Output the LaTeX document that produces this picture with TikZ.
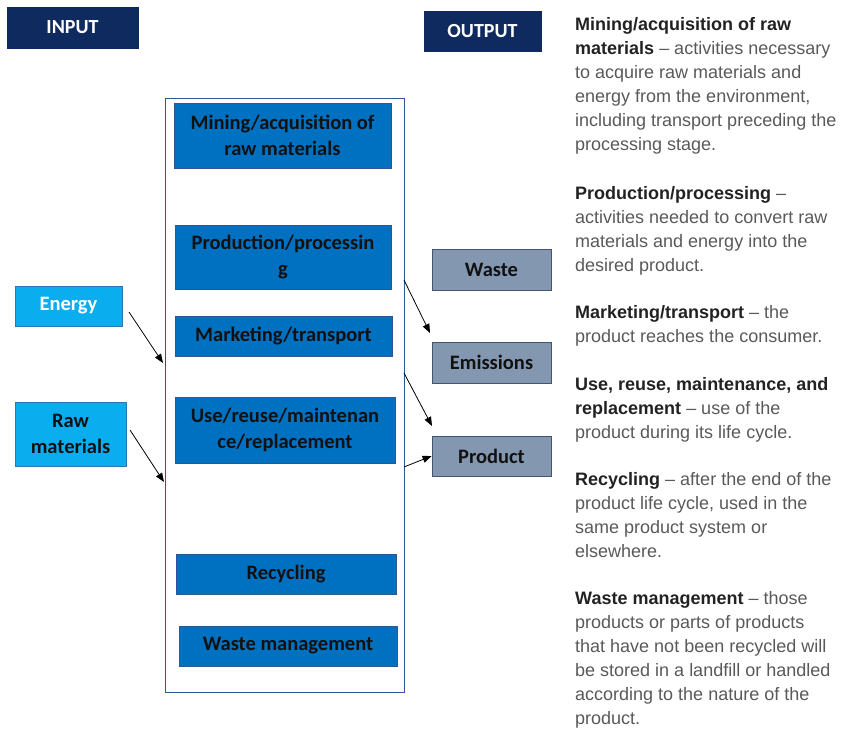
\documentclass[tikz,border=0pt]{standalone}
\usepackage{fontspec}
\setmainfont{Liberation Sans}
\newfontfamily\boxfont{Carlito}
\usetikzlibrary{arrows.meta}
\definecolor{navy}{HTML}{0E2A5E}
\definecolor{procfill}{HTML}{0070C0}
\definecolor{procdraw}{HTML}{2F5597}
\definecolor{infill}{HTML}{0AAEEF}
\definecolor{indraw}{HTML}{2E75B6}
\definecolor{outfill}{HTML}{8497B0}
\definecolor{outdraw}{HTML}{44546A}
\definecolor{txtgrey}{HTML}{595959}
\definecolor{txtdark}{HTML}{222222}
\definecolor{boxtxt}{HTML}{111111}
\tikzset{
  base box/.style={inner sep=0pt, align=center, line width=0.8pt,
    font=\boxfont\bfseries\fontsize{20.5}{26}\selectfont},
  headbox/.style={base box, fill=navy, draw=navy, text=white, font=\boxfont\bfseries\fontsize{20}{22}\selectfont},
  procbox/.style={base box, fill=procfill, draw=procdraw, text=boxtxt},
  inbox/.style={base box, fill=infill, draw=indraw},
  outbox/.style={base box, fill=outfill, draw=outdraw, text=boxtxt},
  container/.style={draw=procdraw, line width=0.8pt, fill=white, inner sep=0pt},
  conn/.style={line width=0.8pt, -{Triangle[length=9pt,width=7pt]}},
  para/.style={inner sep=0pt, anchor=base west, text=txtgrey,
    font=\fontsize{18}{24}\selectfont},
}
\newcommand{\hd}[1]{{\color{txtdark}\bfseries #1}}
\begin{document}
\begin{tikzpicture}[x=1pt,y=-1pt]
\useasboundingbox (0,0) rectangle (847,730);
% headers
\node[headbox, minimum width=131pt, minimum height=41pt] (input) at (72.5,27.5) {INPUT};
\node[headbox, minimum width=117pt, minimum height=40pt] (output) at (482.5,31) {OUTPUT};
% container
\node[container, minimum width=239pt, minimum height=594pt] (cont) at (284.5,395) {};
% process boxes
\node[procbox, minimum width=217pt, minimum height=65pt] (mining) at (282.5,135.5) {Mining/acquisition of\\raw materials};
\node[procbox, minimum width=216pt, minimum height=64pt] (prod) at (283,257) {Production/processin\\g};
\node[procbox, minimum width=217pt, minimum height=40pt] (mkt) at (283.5,336) {Marketing/transport};
\node[procbox, minimum width=220pt, minimum height=66pt] (use) at (285,430) {Use/reuse/maintenan\\ce/replacement};
\node[procbox, minimum width=220pt, minimum height=40pt] (recyc) at (286,574) {Recycling};
\node[procbox, minimum width=218pt, minimum height=40pt] (wastem) at (288,646) {Waste management};
% inputs
\node[inbox, text=white, minimum width=107pt, minimum height=40pt] (energy) at (68.5,306) {Energy};
\node[inbox, text=boxtxt, minimum width=111pt, minimum height=64pt] (raw) at (70.5,434) {Raw\\materials};
% outputs
\node[outbox, minimum width=119pt, minimum height=41pt] (waste) at (491.5,269.5) {Waste};
\node[outbox, minimum width=119pt, minimum height=41pt] (emis) at (491.5,362.5) {Emissions};
\node[outbox, minimum width=119pt, minimum height=40pt] (prodout) at (491.5,456) {Product};
% connector ends
\coordinate (eS) at (129,312);
\coordinate (eE) at (163,363);
\coordinate (rS) at (130,430);
\coordinate (rE) at (164,482);
\coordinate (o1S) at (404,280);
\coordinate (o1E) at (430,333);
\coordinate (o2S) at (404,373);
\coordinate (o2E) at (432,426);
\coordinate (o3S) at (404,467);
\draw[conn] (eS) -- (eE);
\draw[conn] (rS) -- (rE);
\draw[conn] (o1S) -- (o1E);
\draw[conn] (o2S) -- (o2E);
\draw[conn] (o3S) -- (prodout.west);
% descriptions
\node[para] (d1) at (575,17) {\parbox[t]{272pt}{\raggedright
\hd{Mining/acquisition of raw}\\
\hd{materials} -- activities necessary\\
to acquire raw materials and\\
energy from the environment,\\
including transport preceding the\\
processing stage.}};
\node[para] (d2) at (575,186) {\parbox[t]{272pt}{\raggedright
\hd{Production/processing} --\\
activities needed to convert raw\\
materials and energy into the\\
desired product.}};
\node[para] (d3) at (575,305) {\parbox[t]{272pt}{\raggedright
\hd{Marketing/transport} -- the\\
product reaches the consumer.}};
\node[para] (d4) at (575,377) {\parbox[t]{272pt}{\raggedright
\hd{Use, reuse, maintenance, and}\\
\hd{replacement} -- use of the\\
product during its life cycle.}};
\node[para] (d5) at (575,472) {\parbox[t]{272pt}{\raggedright
\hd{Recycling} -- after the end of the\\
product life cycle, used in the\\
same product system or\\
elsewhere.}};
\node[para] (d6) at (575,591) {\parbox[t]{272pt}{\raggedright
\hd{Waste management} -- those\\
products or parts of products\\
that have not been recycled will\\
be stored in a landfill or handled\\
according to the nature of the\\
product.}};
\end{tikzpicture}
\end{document}
